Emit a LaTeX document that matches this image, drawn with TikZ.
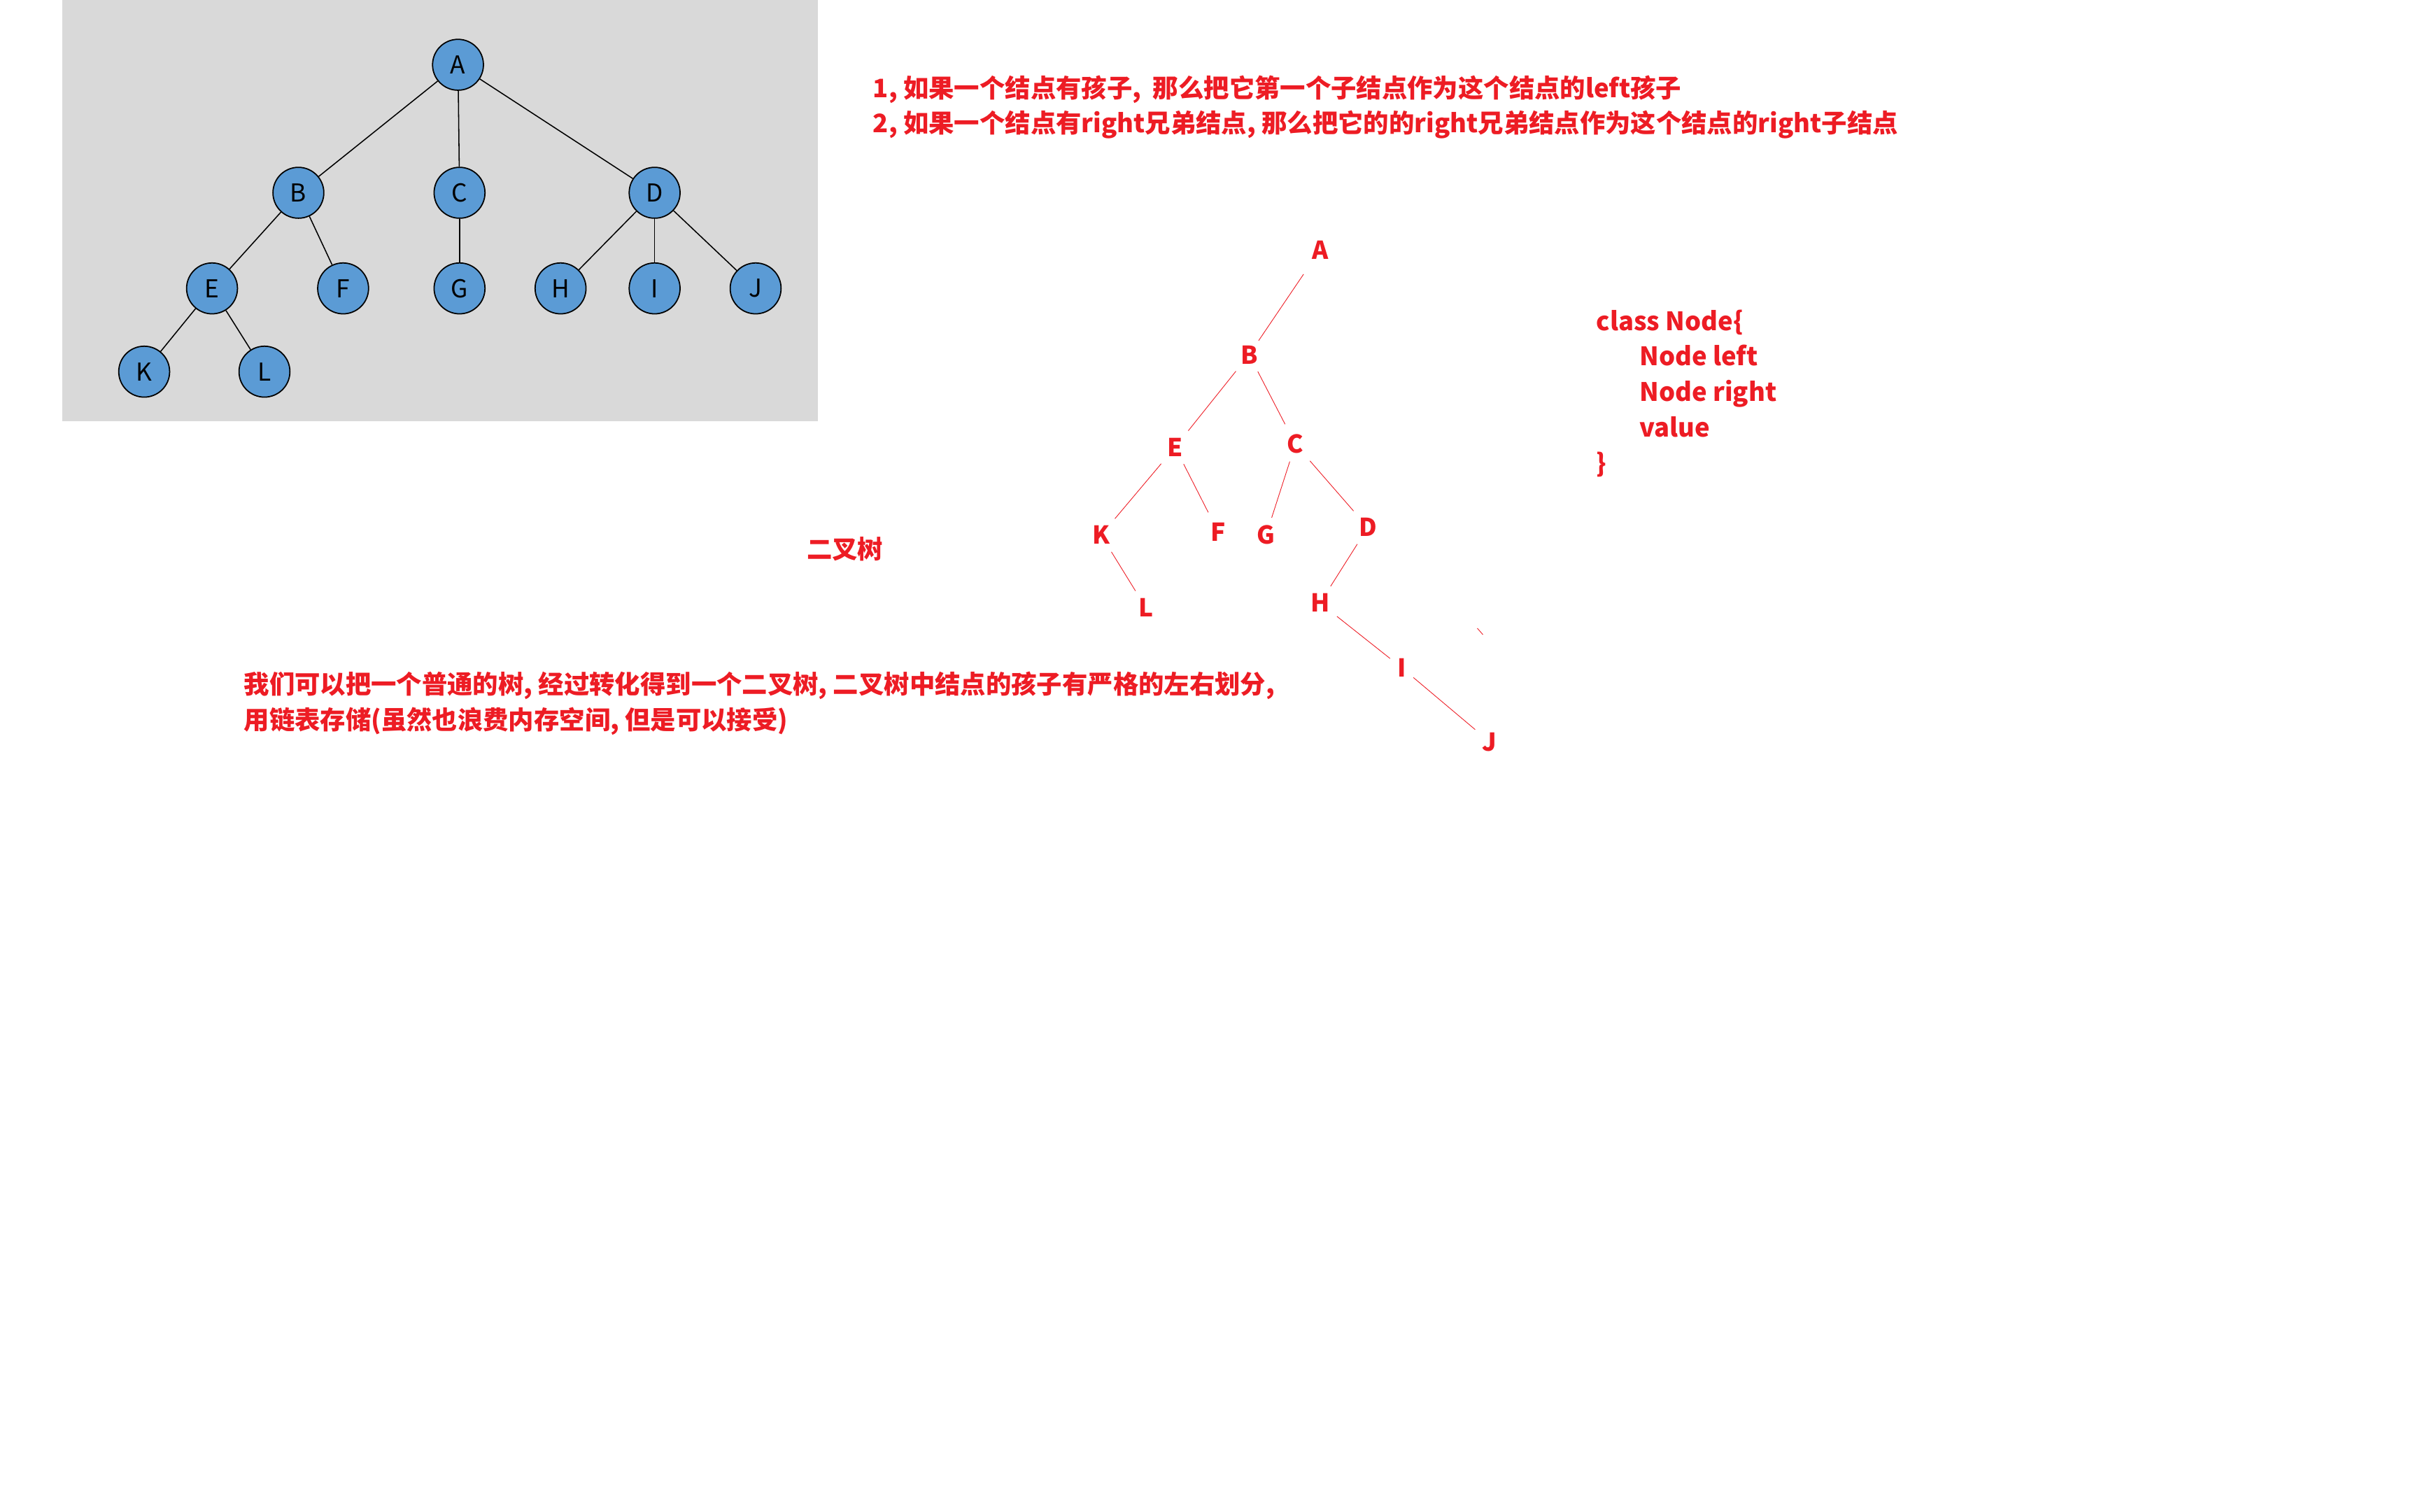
\documentclass[tikz,border=0pt]{standalone}
\usepackage{fontspec}
\setmainfont{Noto Sans CJK SC}
\usepackage{tikz}
\usetikzlibrary{arrows}
\definecolor{notered}{RGB}{237,28,36}
\definecolor{nodeblue}{RGB}{91,155,213}
\definecolor{boxgray}{RGB}{217,217,217}
\tikzset{
treenode/.style={circle, draw, fill=nodeblue, minimum size=33pt, inner sep=0pt, line width=0.8pt, font=\fontsize{16}{16}\selectfont},
treeedge/.style={draw=black, line width=0.7pt},
redlabel/.style={text=notered, inner sep=3pt, font=\bfseries\fontsize{16}{16}\selectfont},
rednote/.style={text=notered, anchor=west, align=left, inner sep=0pt, font=\bfseries\fontsize{16.5}{23}\selectfont},
rededge/.style={draw=notered, line width=0.4pt}
}

\begin{document}
\begin{tikzpicture}[x=1pt, y=-1pt]
\useasboundingbox (0,0) rectangle (1568,980);
\fill [boxgray] (40.5,0) rectangle (530.5,273);

% general tree
\node [treenode] (A) at (297,42) {A};
\node [treenode] (B) at (193.5,125) {B};
\node [treenode] (C) at (298,125) {C};
\node [treenode] (D) at (424.5,125) {D};
\node [treenode] (E) at (137.5,187) {E};
\node [treenode] (F) at (222.5,187) {F};
\node [treenode] (G) at (298,187) {G};
\node [treenode] (H) at (363.5,187) {H};
\node [treenode] (I) at (424.5,187) {I};
\node [treenode] (J) at (490,187) {J};
\node [treenode] (K) at (93.5,241) {K};
\node [treenode] (L) at (171.5,241) {L};

\draw [treeedge] (A) -- (B);
\draw [treeedge] (A) -- (C);
\draw [treeedge] (A) -- (D);
\draw [treeedge] (B) -- (E);
\draw [treeedge] (B) -- (F);
\draw [treeedge] (C) -- (G);
\draw [treeedge] (D) -- (H);
\draw [treeedge] (D) -- (I);
\draw [treeedge] (D) -- (J);
\draw [treeedge] (E) -- (K);
\draw [treeedge] (E) -- (L);

% binary tree
\node [redlabel] (bA) at (856,162) {A};
\node [redlabel] (bB) at (810,230) {B};
\node [redlabel] (bE) at (762,290) {E};
\node [redlabel] (bC) at (840,288) {C};
\node [redlabel] (bK) at (714,347) {K};
\node [redlabel] (bF) at (790,345) {F};
\node [redlabel] (bG) at (821,347) {G};
\node [redlabel] (bD) at (887,342) {D};
\node [redlabel] (bL) at (743,394) {L};
\node [redlabel] (bH) at (856,391) {H};
\node [redlabel] (bI) at (909,433) {I};
\node [redlabel] (bJ) at (966,481) {J};
\coordinate (s1) at (958,407.4);
\coordinate (s2) at (961.6,411.5);

\draw [rededge, shorten <=8pt] (bA) -- (bB);
\draw [rededge, shorten <=2pt, shorten >=2pt] (bB) -- (bE);
\draw [rededge, shorten <=2pt, shorten >=4pt] (bB) -- (bC);
\draw [rededge, shorten <=2pt, shorten >=2pt] (bE) -- (bK);
\draw [rededge, shorten <=2pt, shorten >=4pt] (bE) -- (bF);
\draw [rededge, shorten <=2pt, shorten >=2pt] (bC) -- (bG);
\draw [rededge, shorten <=2pt, shorten >=2pt] (bC) -- (bD);
\draw [rededge, shorten <=2pt, shorten >=2pt] (bK) -- (bL);
\draw [rededge, shorten <=2pt, shorten >=2pt] (bD) -- (bH);
\draw [rededge, shorten <=2pt, shorten >=2pt] (bH) -- (bI);
\draw [rededge, shorten <=2pt, shorten >=2pt] (bI) -- (bJ);
\draw [rededge] (s1) -- (s2);

% notes
\node [rednote] (rules) at (566,69.5) {1, 如果一个结点有孩子,\ \ 那么把它第一个子结点作为这个结点的left孩子\\2, 如果一个结点有right兄弟结点, 那么把它的的right兄弟结点作为这个结点的right子结点};
\node [rednote] (code) at (1035,255) {class Node\{\\\hspace*{28pt}Node left\\\hspace*{28pt}Node right\\\hspace*{28pt}value\\\}};
\node [rednote] (title) at (523,356) {二叉树};
\node [rednote] (desc) at (158,456) {我们可以把一个普通的树, 经过转化得到一个二叉树, 二叉树中结点的孩子有严格的左右划分,\\用链表存储(虽然也浪费内存空间, 但是可以接受)};
\end{tikzpicture}
\end{document}
